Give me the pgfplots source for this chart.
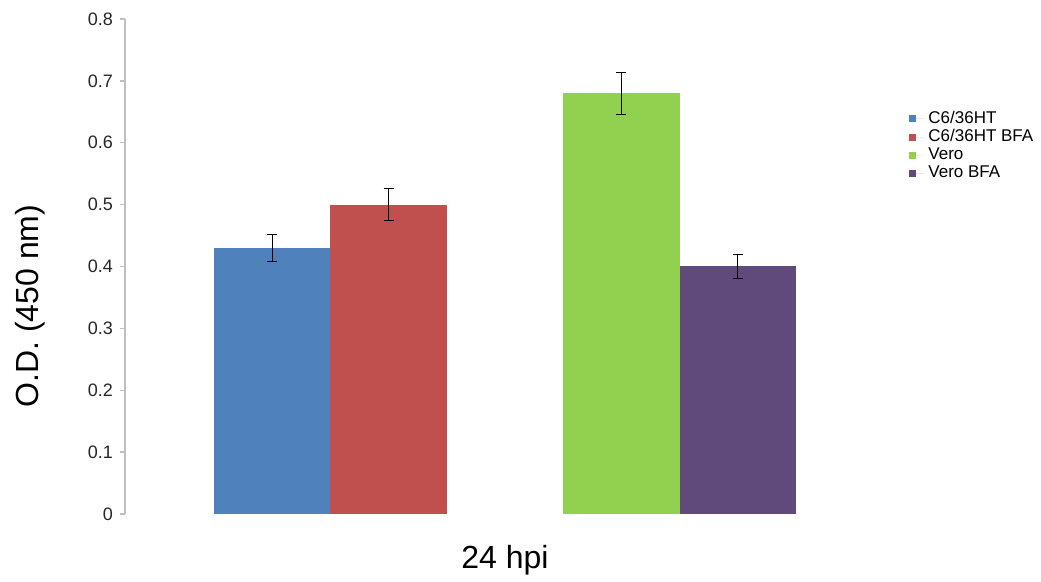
\documentclass[border=0pt]{standalone}
\usepackage{fontspec}
\setmainfont{Liberation Sans}
\usepackage{pgfplots}
\pgfplotsset{compat=1.18}
\definecolor{cBlue}{HTML}{4F81BD}
\definecolor{cRed}{HTML}{C0504D}
\definecolor{cGreen}{HTML}{92D050}
\definecolor{cPurple}{HTML}{604A7B}
\definecolor{axisgray}{HTML}{BFBFBF}
\begin{document}
\begin{tikzpicture}
\path (0,0) rectangle (520.5pt,289.5pt);
\begin{axis}[
  at={(62.5pt,32.5pt)}, anchor=south west,
  scale only axis, width=380pt, height=247.5pt,
  clip=false,
  xmin=-1.264, xmax=5.264, ymin=0, ymax=0.8,
  ytick={0,0.1,0.2,0.3,0.4,0.5,0.6,0.7,0.8},
  axis x line=none, axis y line=left,
  axis line style={draw=axisgray, line width=0.7pt, -},
  ytick style={draw=axisgray, line width=0.7pt},
  tick align=outside, major tick length=2.5pt,
  yticklabel style={font=\fontsize{9}{11}\selectfont, text=black!85,
    /pgf/number format/fixed, /pgf/number format/precision=1},
  /pgf/number format/assume math mode=true,
  ylabel={O.D. (450 nm)},
  every axis y label/.style={at={(axis description cs:-0.125,0.42)}, anchor=center, rotate=90, font=\fontsize{16}{19}\selectfont},
  legend style={at={(axis description cs:1.0316,0.823)}, anchor=north west, draw=none, fill=none,
    font=\fontsize{8.5}{10}\selectfont, row sep=-2.4pt, inner sep=0pt},
  legend cell align=left,
  mybar/.style={ybar, bar width=1, bar shift=0pt, draw=none,
    legend image code/.code={\fill[##1] (0pt,-1.75pt) rectangle (3.5pt,1.75pt);
      \path (3.5pt,0pt) -- (7.5pt,0pt);},
    /pgfplots/error bars/y dir=both, /pgfplots/error bars/y explicit,
    /pgfplots/error bars/error bar style={black, line width=0.5pt},
    /pgfplots/error bars/error mark options={rotate=90, mark size=2.5pt, black, line width=0.5pt}},
]
\addplot[mybar, fill=cBlue] coordinates {(0,0.43) +- (0,0.022)};
\addlegendentry{C6/36HT}
\addplot[mybar, fill=cRed] coordinates {(1,0.50) +- (0,0.026)};
\addlegendentry{C6/36HT BFA}
\addplot[mybar, fill=cGreen] coordinates {(3,0.68) +- (0,0.034)};
\addlegendentry{Vero}
\addplot[mybar, fill=cPurple] coordinates {(4,0.40) +- (0,0.020)};
\addlegendentry{Vero BFA}
% category label under the bars
\node[font=\fontsize{16}{19}\selectfont, anchor=center] at (axis description cs:0.5,-0.093) {24 hpi};
\end{axis}
\end{tikzpicture}
\end{document}
